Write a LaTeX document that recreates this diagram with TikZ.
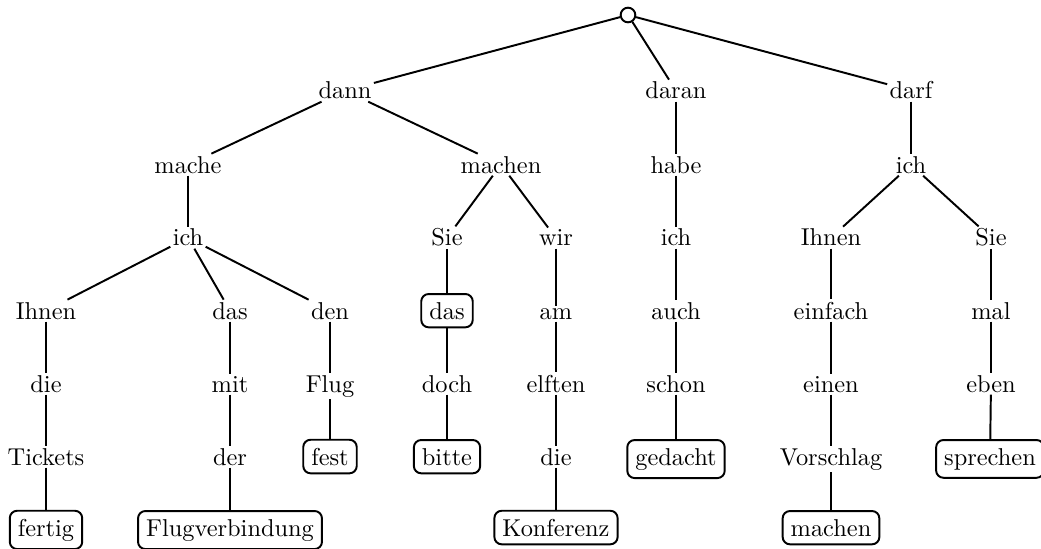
\documentclass[tikz,border=0pt]{standalone}
\begin{document}
\begin{tikzpicture}[x=0.41pt,y=-0.41pt,
  w/.style={inner sep=0.8pt, anchor=base},
  bx/.style={draw, rounded corners=3pt, inner sep=3.3pt, anchor=base, line width=0.8pt},
  ed/.style={line width=0.8pt},
  rootnode/.style={circle, draw, fill=white, minimum size=6pt, inner sep=0pt, line width=0.8pt}]
\useasboundingbox (0,0) rectangle (1041,549);
% root
\node[rootnode] (root) at (628,15) {};
% row 1
\node[w] (dann) at (345,99) {dann};
\node[w] (daran) at (676,99) {daran};
\node[w] (darf) at (911,99) {darf};
% row 2
\node[w] (mache) at (188,173) {mache};
\node[w] (machen) at (501,173) {machen};
\node[w] (habe) at (676,173) {habe};
\node[w] (ichA) at (911,173) {ich};
% row 3
\node[w] (ichB) at (188,246) {ich};
\node[w] (SieA) at (447,246) {Sie};
\node[w] (wir) at (556,246) {wir};
\node[w] (ichC) at (676,246) {ich};
\node[w] (IhnenA) at (831,246) {Ihnen};
\node[w] (SieB) at (991,246) {Sie};
% row 4
\node[w] (IhnenB) at (46,319) {Ihnen};
\node[w] (dasA) at (230,319) {das};
\node[w] (den) at (330,319) {den};
\node[bx] (dasB) at (447,319) {das};
\node[w] (am) at (556,319) {am};
\node[w] (auch) at (676,319) {auch};
\node[w] (einfach) at (831,319) {einfach};
\node[w] (mal) at (991,319) {mal};
% row 5
\node[w] (dieA) at (46,392) {die};
\node[w] (mit) at (230,392) {mit};
\node[w] (Flug) at (330,392) {Flug};
\node[w] (doch) at (447,392) {doch};
\node[w] (elften) at (556,392) {elften};
\node[w] (schon) at (676,392) {schon};
\node[w] (einen) at (831,392) {einen};
\node[w] (eben) at (991,392) {eben};
% row 6
\node[w] (Tickets) at (46,465) {Tickets};
\node[w] (der) at (230,465) {der};
\node[bx] (fest) at (330,465) {fest};
\node[bx] (bitte) at (447,465) {bitte};
\node[w] (dieB) at (556,465) {die};
\node[bx] (gedacht) at (676,465) {gedacht};
\node[w] (Vorschlag) at (831,465) {Vorschlag};
\node[bx] (sprechen) at (990,465) {sprechen};
% row 7
\node[bx] (fertig) at (46,536) {fertig};
\node[bx] (Flugverbindung) at (230,536) {Flugverbindung};
\node[bx] (Konferenz) at (556,536) {Konferenz};
\node[bx] (machenB) at (831,536) {machen};
% edges
\draw[ed] (root) -- (dann);
\draw[ed] (root) -- (daran);
\draw[ed] (root) -- (darf);
\draw[ed] (dann) -- (mache);
\draw[ed] (dann) -- (machen);
\draw[ed] (mache) -- (ichB);
\draw[ed] (ichB) -- (IhnenB);
\draw[ed] (ichB) -- (dasA);
\draw[ed] (ichB) -- (den);
\draw[ed] (IhnenB) -- (dieA);
\draw[ed] (dieA) -- (Tickets);
\draw[ed] (Tickets) -- (fertig);
\draw[ed] (dasA) -- (mit);
\draw[ed] (mit) -- (der);
\draw[ed] (der) -- (Flugverbindung);
\draw[ed] (den) -- (Flug);
\draw[ed] (Flug) -- (fest);
\draw[ed] (machen) -- (SieA);
\draw[ed] (machen) -- (wir);
\draw[ed] (SieA) -- (dasB);
\draw[ed] (dasB) -- (doch);
\draw[ed] (doch) -- (bitte);
\draw[ed] (wir) -- (am);
\draw[ed] (am) -- (elften);
\draw[ed] (elften) -- (dieB);
\draw[ed] (dieB) -- (Konferenz);
\draw[ed] (daran) -- (habe);
\draw[ed] (habe) -- (ichC);
\draw[ed] (ichC) -- (auch);
\draw[ed] (auch) -- (schon);
\draw[ed] (schon) -- (gedacht);
\draw[ed] (darf) -- (ichA);
\draw[ed] (ichA) -- (IhnenA);
\draw[ed] (ichA) -- (SieB);
\draw[ed] (IhnenA) -- (einfach);
\draw[ed] (einfach) -- (einen);
\draw[ed] (einen) -- (Vorschlag);
\draw[ed] (Vorschlag) -- (machenB);
\draw[ed] (SieB) -- (mal);
\draw[ed] (mal) -- (eben);
\draw[ed] (eben) -- (sprechen);
\end{tikzpicture}
\end{document}
